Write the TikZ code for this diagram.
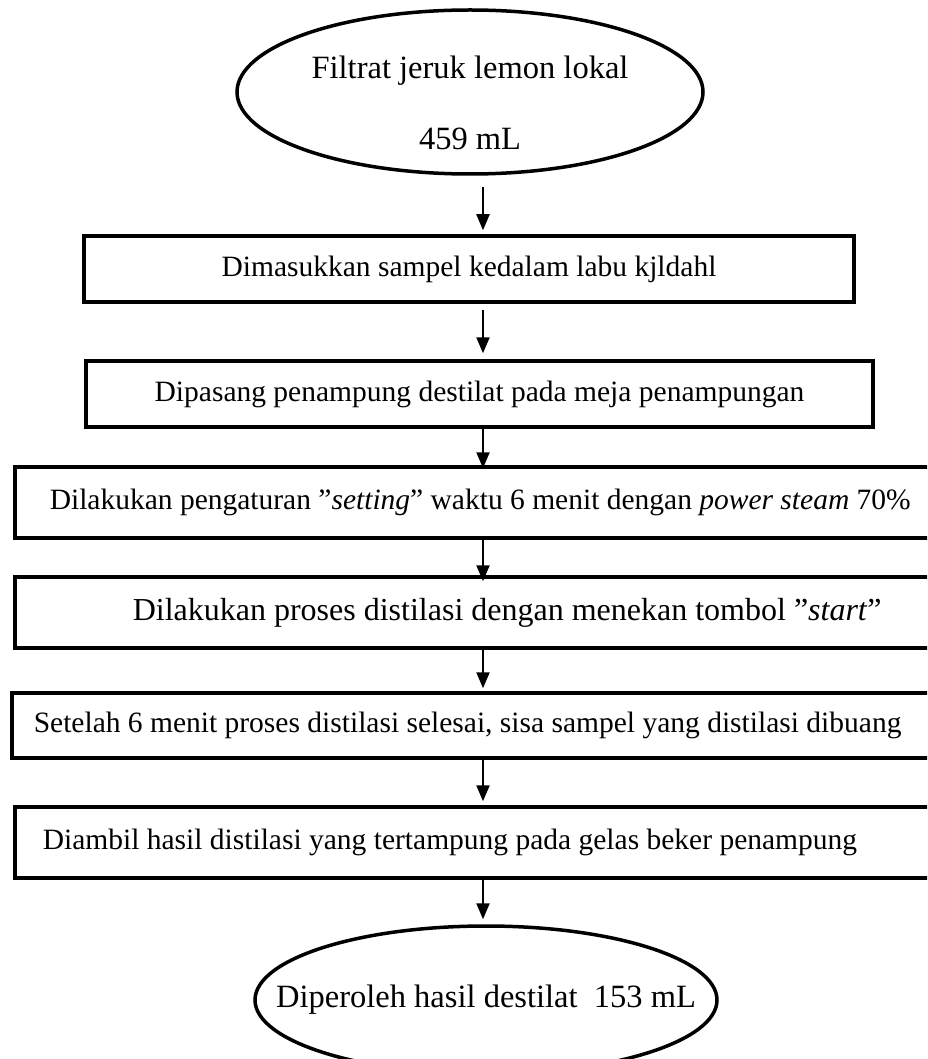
\documentclass[tikz,border=0pt]{standalone}
\usepackage{fontspec}
\setmainfont{Liberation Serif}
\usetikzlibrary{shapes.geometric,arrows.meta}

\tikzset{
  terminal/.style={draw, ellipse, line width=3.5pt, inner sep=0pt, font=\fontsize{32.5}{38}\selectfont},
  stepbox/.style={draw, rectangle, line width=3.5pt, inner ysep=0pt},
  widebox/.style={stepbox, anchor=west, minimum width=1037pt, align=flush left},
  flow/.style={line width=2.2pt, -{Triangle[length=16pt,width=13pt]}}
}

\begin{document}
\begin{tikzpicture}[x=1pt, y=-1pt, font=\fontsize{29.5}{35}\selectfont]
% Page frame, the wide boxes run past the right edge
\clip (0,0) rectangle (927,1059);

% Start
\node[terminal, minimum width=466pt, minimum height=164pt, inner ysep=-10pt, align=center] (start) at (470,92) {\rule{0pt}{44pt}Filtrat jeruk lemon lokal\\[33pt]459 mL};

% Steps
\node[stepbox, minimum width=770pt, minimum height=66pt] (s1) at (469,269) {Dimasukkan sampel kedalam labu kjldahl};
\node[stepbox, minimum width=787pt, minimum height=66pt] (s2) at (479.5,394) {Dipasang penampung destilat pada meja penampungan};
\node[widebox, minimum height=71pt, inner xsep=35pt, text width=967pt] (s3) at (13,502.5) {Dilakukan pengaturan ”\textit{setting}” waktu 6 menit dengan \textit{power steam} 70\%};
\node[widebox, minimum height=71pt, inner xsep=118pt, text width=801pt, font=\fontsize{32}{38}\selectfont] (s4) at (13,612.5) {Dilakukan proses distilasi dengan menekan tombol ”\textit{start}”};
\node[widebox, minimum height=65pt, inner xsep=22pt, text width=996pt] (s5) at (10,725.5) {Setelah 6 menit proses distilasi selesai, sisa sampel yang distilasi dibuang};
\node[widebox, minimum height=71pt, inner xsep=28pt, text width=981pt] (s6) at (13,842.5) {Diambil hasil distilasi yang tertampung pada gelas beker penampung};

% End
\node[terminal, minimum width=462pt, minimum height=148pt, inner xsep=-60pt] (end) at (486,1000) {Diperoleh hasil destilat\ \ 153 mL};

% Arrows, all on one vertical line
\coordinate (ax) at (483,0);
\draw[flow, shorten <=11pt, shorten >=4pt] (start.south -| ax) -- (s1.north -| ax);
\draw[flow, shorten <=6pt, shorten >=6pt] (s1.south -| ax) -- (s2.north -| ax);
\draw[flow, shorten >=-3pt] (s2.south -| ax) -- (s3.north -| ax);
\draw[flow, shorten >=-6pt] (s3.south -| ax) -- (s4.north -| ax);
\draw[flow, shorten >=3pt] (s4.south -| ax) -- (s5.north -| ax);
\draw[flow, shorten >=4pt] (s5.south -| ax) -- (s6.north -| ax);
\draw[flow, shorten >=5pt] (s6.south -| ax) -- (end.north -| ax);
\end{tikzpicture}
\end{document}
